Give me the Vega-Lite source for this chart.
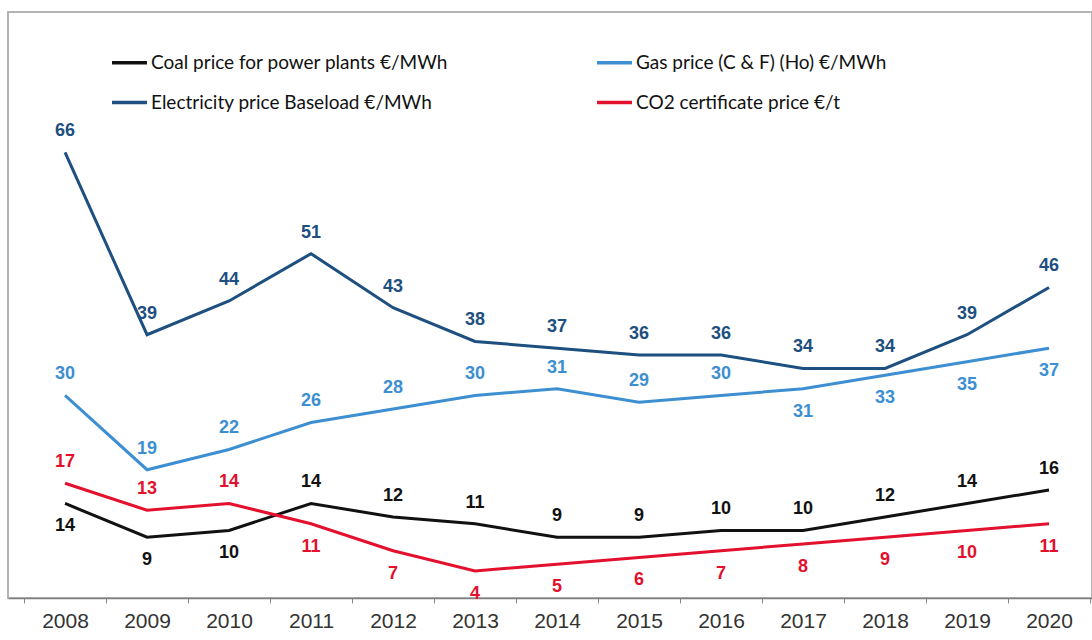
{
  "$schema": "https://vega.github.io/schema/vega-lite/v6.json",
  "width": 1084,
  "height": 586,
  "autosize": {"type": "none"},
  "padding": {"left": 8, "top": 12, "right": 0, "bottom": 42},
  "background": "white",
  "config": {
    "view": {"stroke": "#b4b4b4", "strokeWidth": 2},
    "font": "Liberation Sans"
  },
  "data": {
    "values": [
      {"year": 2008, "series": "Coal price for power plants €/MWh", "value": 14},
      {"year": 2009, "series": "Coal price for power plants €/MWh", "value": 9},
      {"year": 2010, "series": "Coal price for power plants €/MWh", "value": 10},
      {"year": 2011, "series": "Coal price for power plants €/MWh", "value": 14},
      {"year": 2012, "series": "Coal price for power plants €/MWh", "value": 12},
      {"year": 2013, "series": "Coal price for power plants €/MWh", "value": 11},
      {"year": 2014, "series": "Coal price for power plants €/MWh", "value": 9},
      {"year": 2015, "series": "Coal price for power plants €/MWh", "value": 9},
      {"year": 2016, "series": "Coal price for power plants €/MWh", "value": 10},
      {"year": 2017, "series": "Coal price for power plants €/MWh", "value": 10},
      {"year": 2018, "series": "Coal price for power plants €/MWh", "value": 12},
      {"year": 2019, "series": "Coal price for power plants €/MWh", "value": 14},
      {"year": 2020, "series": "Coal price for power plants €/MWh", "value": 16},
      {"year": 2008, "series": "Electricity price Baseload €/MWh", "value": 66},
      {"year": 2009, "series": "Electricity price Baseload €/MWh", "value": 39},
      {"year": 2010, "series": "Electricity price Baseload €/MWh", "value": 44},
      {"year": 2011, "series": "Electricity price Baseload €/MWh", "value": 51},
      {"year": 2012, "series": "Electricity price Baseload €/MWh", "value": 43},
      {"year": 2013, "series": "Electricity price Baseload €/MWh", "value": 38},
      {"year": 2014, "series": "Electricity price Baseload €/MWh", "value": 37},
      {"year": 2015, "series": "Electricity price Baseload €/MWh", "value": 36},
      {"year": 2016, "series": "Electricity price Baseload €/MWh", "value": 36},
      {"year": 2017, "series": "Electricity price Baseload €/MWh", "value": 34},
      {"year": 2018, "series": "Electricity price Baseload €/MWh", "value": 34},
      {"year": 2019, "series": "Electricity price Baseload €/MWh", "value": 39},
      {"year": 2020, "series": "Electricity price Baseload €/MWh", "value": 46},
      {"year": 2008, "series": "Gas price (C & F) (Ho) €/MWh", "value": 30},
      {"year": 2009, "series": "Gas price (C & F) (Ho) €/MWh", "value": 19},
      {"year": 2010, "series": "Gas price (C & F) (Ho) €/MWh", "value": 22},
      {"year": 2011, "series": "Gas price (C & F) (Ho) €/MWh", "value": 26},
      {"year": 2012, "series": "Gas price (C & F) (Ho) €/MWh", "value": 28},
      {"year": 2013, "series": "Gas price (C & F) (Ho) €/MWh", "value": 30},
      {"year": 2014, "series": "Gas price (C & F) (Ho) €/MWh", "value": 31},
      {"year": 2015, "series": "Gas price (C & F) (Ho) €/MWh", "value": 29},
      {"year": 2016, "series": "Gas price (C & F) (Ho) €/MWh", "value": 30},
      {"year": 2017, "series": "Gas price (C & F) (Ho) €/MWh", "value": 31},
      {"year": 2018, "series": "Gas price (C & F) (Ho) €/MWh", "value": 33},
      {"year": 2019, "series": "Gas price (C & F) (Ho) €/MWh", "value": 35},
      {"year": 2020, "series": "Gas price (C & F) (Ho) €/MWh", "value": 37},
      {"year": 2008, "series": "CO2 certificate price €/t", "value": 17},
      {"year": 2009, "series": "CO2 certificate price €/t", "value": 13},
      {"year": 2010, "series": "CO2 certificate price €/t", "value": 14},
      {"year": 2011, "series": "CO2 certificate price €/t", "value": 11},
      {"year": 2012, "series": "CO2 certificate price €/t", "value": 7},
      {"year": 2013, "series": "CO2 certificate price €/t", "value": 4},
      {"year": 2014, "series": "CO2 certificate price €/t", "value": 5},
      {"year": 2015, "series": "CO2 certificate price €/t", "value": 6},
      {"year": 2016, "series": "CO2 certificate price €/t", "value": 7},
      {"year": 2017, "series": "CO2 certificate price €/t", "value": 8},
      {"year": 2018, "series": "CO2 certificate price €/t", "value": 9},
      {"year": 2019, "series": "CO2 certificate price €/t", "value": 10},
      {"year": 2020, "series": "CO2 certificate price €/t", "value": 11}
    ]
  },
  "encoding": {
    "x": {
      "field": "year",
      "type": "ordinal",
      "bandPosition": 0.5,
      "scale": {"type": "band", "paddingInner": 0, "paddingOuter": 0.11, "align": 0.89},
      "axis": {
        "title": null,
        "labelAngle": 0,
        "labelFont": "Liberation Sans",
        "labelFontSize": 21,
        "labelColor": "#333333",
        "labelPadding": 7,
        "tickBand": "extent",
        "tickSize": 5,
        "tickColor": "#888888",
        "domainColor": "#808080",
        "domainWidth": 1.5,
        "grid": false
      }
    },
    "y": {
      "field": "value",
      "type": "quantitative",
      "scale": {"domain": [0, 86.8], "nice": false, "zero": true},
      "axis": null
    },
    "color": {
      "field": "series",
      "type": "nominal",
      "scale": {
        "domain": ["Coal price for power plants €/MWh", "Gas price (C & F) (Ho) €/MWh", "Electricity price Baseload €/MWh", "CO2 certificate price €/t"],
        "range": ["#111111", "#3d8fd1", "#1d4f7f", "#e3102e"]
      },
      "legend": {
        "title": null,
        "orient": "none",
        "legendX": 102,
        "legendY": 31,
        "direction": "horizontal",
        "columns": 2,
        "columnPadding": 141,
        "rowPadding": 10,
        "symbolType": "stroke",
        "symbolSize": 1225,
        "symbolStrokeWidth": 3.5,
        "labelOffset": 2,
        "labelFont": "Lato",
        "labelFontSize": 19,
        "labelColor": "#111111",
        "labelLimit": 500
      }
    }
  },
  "layer": [
    {"mark": {"type": "line", "strokeWidth": 3}},
    {
      "transform": [{"filter": "!((datum.series == 'Gas price (C & F) (Ho) €/MWh' && datum.year >= 2017) || (datum.series == 'Coal price for power plants €/MWh' && datum.year <= 2010) || (datum.series == 'CO2 certificate price €/t' && datum.year >= 2011))"}],
      "mark": {"type": "text", "dy": -21, "baseline": "middle", "fontWeight": "bold", "fontSize": 18, "font": "Liberation Sans"},
      "encoding": {"text": {"field": "value", "type": "quantitative"}}
    },
    {
      "transform": [{"filter": "(datum.series == 'Gas price (C & F) (Ho) €/MWh' && datum.year >= 2017) || (datum.series == 'Coal price for power plants €/MWh' && datum.year <= 2010) || (datum.series == 'CO2 certificate price €/t' && datum.year >= 2011)"}],
      "mark": {"type": "text", "dy": 23, "baseline": "middle", "fontWeight": "bold", "fontSize": 18, "font": "Liberation Sans"},
      "encoding": {"text": {"field": "value", "type": "quantitative"}}
    }
  ]
}
